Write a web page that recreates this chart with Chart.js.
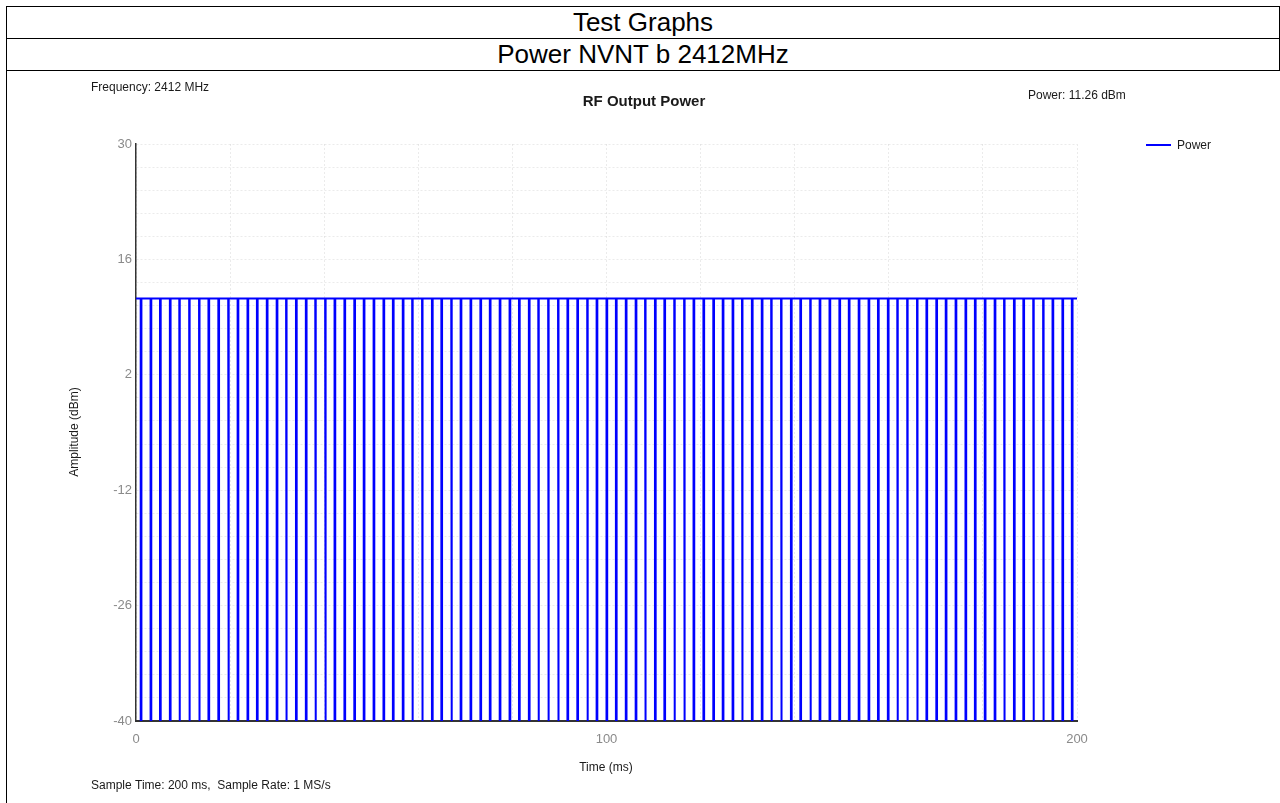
<!DOCTYPE html>
<html>
<head>
<meta charset="utf-8">
<script src="https://cdn.jsdelivr.net/npm/chart.js@4.4.0/dist/chart.umd.min.js"></script>
<style>
  body { margin: 0; background: #fff; width: 1280px; height: 803px; overflow: hidden; position: relative; font-family: "Liberation Sans", Arial, sans-serif; }
  .row { position: absolute; left: 6px; width: 1272px; height: 31px; border-top: 1px solid #000; border-left: 1px solid #000; border-right: 1px solid #000; text-align: center; font-size: 26px; line-height: 31px; color: #000; }
  #r1 { top: 6px; }
  #r2 { top: 38px; }
  #r3 { position: absolute; left: 6px; top: 70px; width: 1274px; height: 733px; border-top: 1px solid #000; border-left: 1px solid #000; }
  #wrap { position: absolute; left: 7px; top: 71px; width: 1273px; height: 732px; }
</style>
</head>
<body>
<div class="row" id="r1">Test Graphs</div>
<div class="row" id="r2">Power NVNT b 2412MHz</div>
<div id="r3"></div>
<div id="wrap"><canvas id="chart"></canvas></div>
<script>
// times (ms) where the trace drops out between bursts
const dropTimes = [1.0, 3.1, 5.1, 7.2, 9.2, 11.3, 13.4, 15.4, 17.5, 19.6,
  21.6, 23.7, 25.7, 27.8, 29.9, 31.9, 34.0, 36.1, 38.1, 40.2,
  42.2, 44.3, 46.4, 48.4, 50.5, 52.6, 54.6, 56.7, 58.7, 60.8,
  62.9, 64.9, 67.0, 69.0, 71.1, 73.2, 75.2, 77.3, 79.4, 81.4,
  83.5, 85.5, 87.6, 89.7, 91.7, 93.8, 95.9, 97.9, 100.0, 102.0,
  104.1, 106.2, 108.2, 110.3, 112.3, 114.4, 116.5, 118.5, 120.6, 122.7,
  124.7, 126.8, 128.8, 130.9, 133.0, 135.0, 137.1, 139.2, 141.2, 143.3,
  145.3, 147.4, 149.5, 151.5, 153.6, 155.7, 157.7, 159.8, 161.8, 163.9,
  166.0, 168.0, 170.1, 172.1, 174.2, 176.3, 178.3, 180.4, 182.5, 184.5,
  186.6, 188.6, 190.7, 192.8, 194.8, 196.9, 198.9];
const dropLength = 0.15;     // ms
const burstLevel = 11.26;    // dBm
const floorLevel = -40;      // dBm
const sweepStart = 0;
const sweepEnd = 200;

const yMajorTicks = [30, 16, 2, -12, -26, -40];
const xMajorTicks = [0, 100, 200];

// build the trace: flat at burst level, dropping to the floor at each gap
const trace = [{ x: sweepStart, y: burstLevel }];
dropTimes.forEach(t => {
  trace.push({ x: t, y: burstLevel });
  trace.push({ x: t, y: floorLevel });
  trace.push({ x: t + dropLength, y: floorLevel });
  trace.push({ x: t + dropLength, y: burstLevel });
});
trace.push({ x: sweepEnd, y: burstLevel });

const textColor = '#1a1a1a';
const tickColor = '#8a8a8a';
const gridColor = 'rgba(0,0,0,0.08)';

const overlay = {
  id: 'overlay',
  afterDraw(chart) {
    const ctx = chart.ctx;
    ctx.save();
    ctx.fillStyle = textColor;
    ctx.textBaseline = 'middle';
    ctx.font = '12px "Liberation Sans", Arial, sans-serif';
    ctx.textAlign = 'left';
    ctx.fillText('Frequency: 2412 MHz', 84, 17);
    ctx.fillText('Power: 11.26 dBm', 1021, 25);
    ctx.fillText('Sample Time: 200 ms,  Sample Rate: 1 MS/s', 84, 715);

    // legend
    const ds = chart.data.datasets[0];
    ctx.strokeStyle = ds.borderColor;
    ctx.lineWidth = 2;
    ctx.beginPath();
    ctx.moveTo(1139, 74);
    ctx.lineTo(1164, 74);
    ctx.stroke();
    ctx.fillText(ds.label, 1170, 75);

    ctx.textAlign = 'center';
    ctx.fillText('Time (ms)', 599, 697);
    ctx.save();
    ctx.translate(68, 361);
    ctx.rotate(-Math.PI / 2);
    ctx.fillText('Amplitude (dBm)', 0, 0);
    ctx.restore();

    ctx.font = 'bold 15px "Liberation Sans", Arial, sans-serif';
    ctx.fillText('RF Output Power', 637, 31);
    ctx.restore();
  }
};

new Chart(document.getElementById('chart'), {
  type: 'line',
  data: {
    datasets: [{
      label: 'Power',
      data: trace,
      borderColor: '#0000ff',
      borderWidth: 2,
      pointRadius: 0,
      tension: 0,
      fill: false
    }]
  },
  options: {
    responsive: true,
    maintainAspectRatio: false,
    animation: false,
    layout: { padding: { left: 0, top: 73, right: 203, bottom: 0 } },
    plugins: { legend: { display: false }, tooltip: { enabled: false } },
    scales: {
      x: {
        type: 'linear',
        min: sweepStart,
        max: sweepEnd,
        afterFit(s) { s.height = 82; },
        afterBuildTicks(s) {
          const t = [];
          for (let v = sweepStart; v <= sweepEnd; v += 20) t.push({ value: v });
          s.ticks = t;
        },
        ticks: {
          color: tickColor,
          font: { size: 13, family: '"Liberation Sans", Arial, sans-serif' },
          padding: 11,
          maxRotation: 0,
          autoSkip: false,
          callback: v => xMajorTicks.includes(v) ? String(v) : ''
        },
        grid: { color: gridColor, drawTicks: false },
        border: { color: '#333', width: 2, dash: [2, 2] }
      },
      y: {
        type: 'linear',
        min: floorLevel,
        max: 30,
        afterFit(s) { s.width = 129; },
        afterBuildTicks(s) {
          const t = [];
          for (let i = 0; i <= 25; i++) t.push({ value: Math.round((floorLevel + 2.8 * i) * 10) / 10 });
          s.ticks = t;
        },
        ticks: {
          color: tickColor,
          font: { size: 13, family: '"Liberation Sans", Arial, sans-serif' },
          padding: 4,
          autoSkip: false,
          callback: v => yMajorTicks.includes(v) ? String(v) : ''
        },
        grid: { color: gridColor, drawTicks: false },
        border: { color: '#333', width: 1.5, dash: [2, 2] }
      }
    }
  },
  plugins: [overlay]
});
</script>
</body>
</html>
